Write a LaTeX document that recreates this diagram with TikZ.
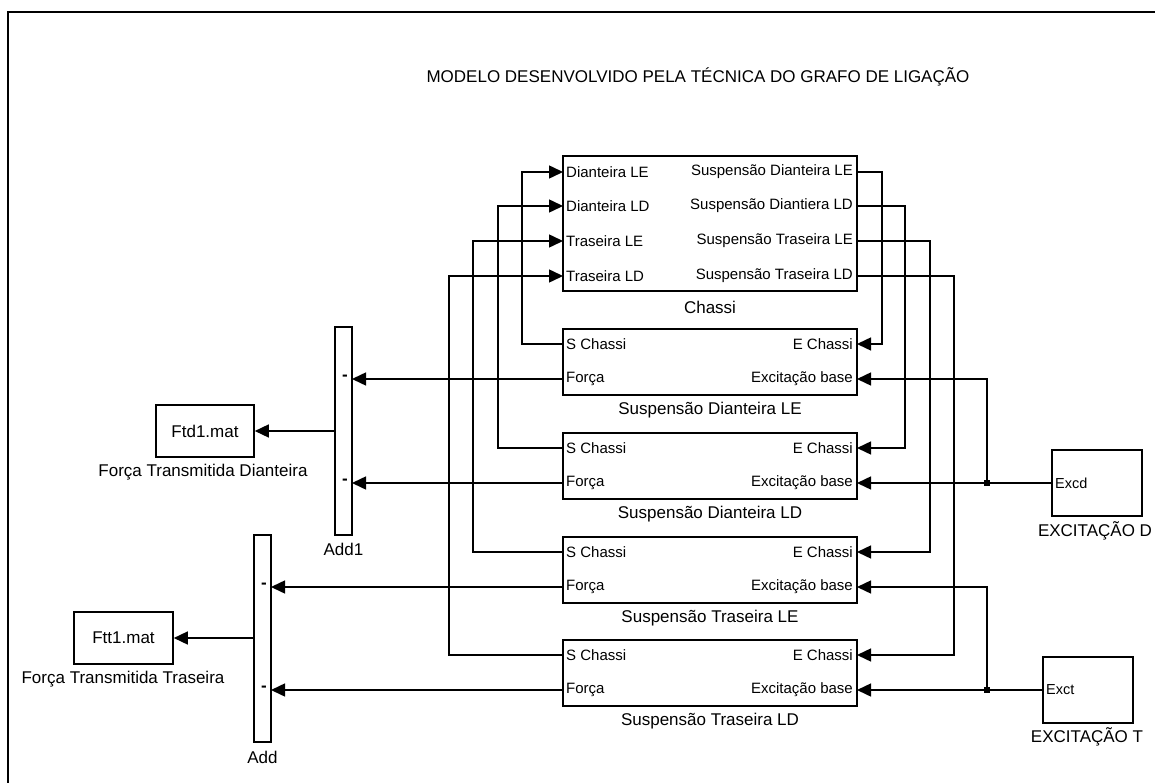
\documentclass[tikz,border=0pt]{standalone}
\usepackage{fontspec}
\setmainfont{Liberation Sans}
\usetikzlibrary{arrows.meta}
\begin{document}
\begin{tikzpicture}[x=1pt,y=-1pt,
  wire/.style={line width=1.5pt},
  arr/.style={wire,-{Triangle[length=14pt,width=13pt]}},
  blk/.style={draw,line width=1.6pt,inner sep=0pt,fill=white},
  port/.style={inner sep=0pt,font=\fontsize{15}{17}\selectfont},
  lbl/.style={inner sep=0pt,font=\fontsize{17}{19}\selectfont},
  small/.style={inner sep=0pt,font=\fontsize{14.5}{16}\selectfont},
  minus/.style={inner sep=0pt,font=\fontsize{17}{19}\selectfont\bfseries},
  dot/.style={fill,rectangle,minimum size=6pt,inner sep=0pt}]
\useasboundingbox (0,0) rectangle (1155,783);
\draw[line width=2pt] (8,783) -- (8,12) -- (1155,12);
\node[lbl] (title) at (698,77) {MODELO DESENVOLVIDO PELA TÉCNICA DO GRAFO DE LIGAÇÃO};

% Chassi
\node[blk,minimum width=294pt,minimum height=135pt] (ch) at (710,223.5) {};
\node[lbl] (chl) at (710,307) {Chassi};
\coordinate (ci1) at (563,172); \coordinate (ci2) at (563,206);
\coordinate (ci3) at (563,241); \coordinate (ci4) at (563,276);
\coordinate (co1) at (857,172); \coordinate (co2) at (857,206);
\coordinate (co3) at (857,241); \coordinate (co4) at (857,276);
\node[port,anchor=west] (cl1) at (566,172) {Dianteira LE};
\node[port,anchor=west] (cl2) at (566,206) {Dianteira LD};
\node[port,anchor=west] (cl3) at (566,241) {Traseira LE};
\node[port,anchor=west] (cl4) at (566,276) {Traseira LD};
\node[port,anchor=east] (cr1) at (853,172) {Suspensão Dianteira LE};
\node[port,anchor=east] (cr2) at (853,206) {Suspensão Diantiera LD};
\node[port,anchor=east] (cr3) at (853,241) {Suspensão Traseira LE};
\node[port,anchor=east] (cr4) at (853,276) {Suspensão Traseira LD};

% Suspensions
\foreach \n/\t/\name in {a/329/Suspensão Dianteira LE,b/433/Suspensão Dianteira LD,c/537/Suspensão Traseira LE,d/640/Suspensão Traseira LD}{
  \node[blk,minimum width=294pt,minimum height=66pt] (s\n) at (710,\t+33) {};
  \node[lbl] (s\n l) at (710,\t+81) {\name};
  \coordinate (s\n-s) at (563,\t+15);
  \coordinate (s\n-f) at (563,\t+50);
  \coordinate (s\n-e) at (857,\t+15);
  \coordinate (s\n-b) at (857,\t+50);
  \node[port,anchor=west] (s\n ls) at (566,\t+15) {S Chassi};
  \node[port,anchor=west] (s\n lf) at (566,\t+50) {Força};
  \node[port,anchor=east] (s\n le) at (853,\t+15) {E Chassi};
  \node[port,anchor=east] (s\n lb) at (853,\t+50) {Excitação base};
}

% Add blocks
\node[blk,minimum width=17pt,minimum height=208pt] (add1) at (343.5,431) {};
\node[lbl] (add1l) at (343.5,549) {Add1};
\node[blk,minimum width=17pt,minimum height=207pt] (add) at (262.5,638.5) {};
\node[lbl] (addl) at (262.5,757) {Add};
\coordinate (a1i1) at (352,379); \coordinate (a1i2) at (352,483);
\coordinate (a0i1) at (271,587); \coordinate (a0i2) at (271,690);
\node[minus,anchor=east] (m1) at (348,378) {-};
\node[minus,anchor=east] (m2) at (348,482) {-};
\node[minus,anchor=east] (m3) at (267,586) {-};
\node[minus,anchor=east] (m4) at (267,689) {-};
\coordinate (a1o) at (335,431);
\coordinate (a0o) at (254,638);

% Sinks
\node[blk,minimum width=98pt,minimum height=52pt,font=\fontsize{17}{19}\selectfont] (ftd) at (205,431) {Ftd1.mat};
\node[lbl] (ftdl) at (203,472) {Força Transmitida Dianteira};
\node[blk,minimum width=99pt,minimum height=52pt,font=\fontsize{17}{19}\selectfont] (ftt) at (123.5,638) {Ftt1.mat};
\node[lbl] (fttl) at (123,679) {Força Transmitida Traseira};

% Excitations
\node[blk,minimum width=90pt,minimum height=66pt] (exd) at (1097,483) {};
\node[small,anchor=west] (exdt) at (1055,483) {Excd};
\node[lbl] (exdl) at (1095,531) {EXCITAÇÃO D};
\node[blk,minimum width=90pt,minimum height=66pt] (ext) at (1088,690) {};
\node[small,anchor=west] (extt) at (1046,690) {Exct};
\node[lbl] (extl) at (1087,737) {EXCITAÇÃO T};
\node[dot] (jd) at (987,483) {};
\node[dot] (jt) at (987,690) {};

% Chassi inputs from S Chassi
\draw[arr] (sa-s) -- (522,344) |- (ci1);
\draw[arr] (sb-s) -- (498,448) |- (ci2);
\draw[arr] (sc-s) -- (473,552) |- (ci3);
\draw[arr] (sd-s) -- (449,655) |- (ci4);
% Chassi outputs to E Chassi
\draw[arr] (co1) -- (882,172) |- (sa-e);
\draw[arr] (co2) -- (905,206) |- (sb-e);
\draw[arr] (co3) -- (930,241) |- (sc-e);
\draw[arr] (co4) -- (954,276) |- (sd-e);
% Excitations
\draw[wire] (exd.west) -- (jd.center);
\draw[arr] (jd.center) -- (sb-b);
\draw[arr] (jd.center) |- (sa-b);
\draw[wire] (ext.west) -- (jt.center);
\draw[arr] (jt.center) -- (sd-b);
\draw[arr] (jt.center) |- (sc-b);
% Forces
\draw[arr] (sa-f) -- (a1i1);
\draw[arr] (sb-f) -- (a1i2);
\draw[arr] (sc-f) -- (a0i1);
\draw[arr] (sd-f) -- (a0i2);
\draw[arr] (a1o) -- (ftd.east);
\draw[arr] (a0o) -- (ftt.east);
\end{tikzpicture}
\end{document}
